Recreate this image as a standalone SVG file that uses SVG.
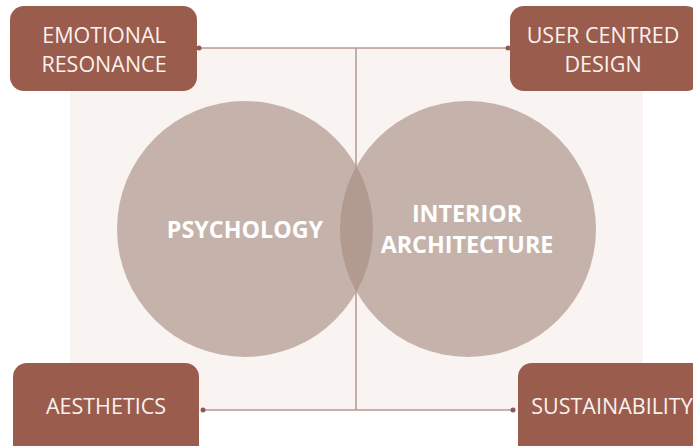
<svg xmlns="http://www.w3.org/2000/svg" width="693" height="446" viewBox="0 0 693 446">
<style>
.node rect{fill:#9a5c4c;}
.node text{fill:#fbf1ee;font-family:"Open Sans","Liberation Sans",sans-serif;font-size:21.5px;text-anchor:middle;}
.circ{fill:#a58a80;fill-opacity:0.62;}
.big{fill:#ffffff;font-family:"Open Sans","Liberation Sans",sans-serif;font-weight:bold;font-size:23.3px;text-anchor:middle;}
.conn line{stroke:#b49890;stroke-width:1.5;fill:none;}
.dot{fill:#8e5a4e;}
</style>
<rect x="0" y="0" width="693" height="446" fill="#ffffff"/>
<rect x="70" y="48" width="573" height="362" fill="#f9f3f1"/>
<g id="venn">
<circle class="circ" cx="245" cy="229" r="128"/>
<circle class="circ" cx="468" cy="229" r="128"/>
<text class="big" x="245" y="238">PSYCHOLOGY</text>
<text class="big" x="467" y="222">INTERIOR</text>
<text class="big" x="467" y="253">ARCHITECTURE</text>
</g>
<g id="connectors" class="conn">
<line x1="199" y1="48" x2="356" y2="48"/>
<line x1="356" y1="48" x2="508" y2="48"/>
<line x1="356" y1="48" x2="356" y2="410"/>
<line x1="203" y1="410" x2="356" y2="410"/>
<line x1="356" y1="410" x2="513" y2="410"/>
<line x1="353" y1="229" x2="359" y2="229"/>
<circle class="dot" cx="199" cy="48" r="2.5"/>
<circle class="dot" cx="508" cy="48" r="2.5"/>
<circle class="dot" cx="203" cy="410" r="2.5"/>
<circle class="dot" cx="513" cy="410" r="2.5"/>
</g>
<g id="emotional" class="node">
<rect x="10" y="6" width="187" height="85" rx="14"/>
<text x="104" y="43">EMOTIONAL</text>
<text x="104" y="72">RESONANCE</text>
</g>
<g id="user" class="node">
<rect x="510" y="6" width="190" height="85" rx="14"/>
<text x="603" y="43">USER CENTRED</text>
<text x="603" y="72">DESIGN</text>
</g>
<g id="aesthetics" class="node">
<rect x="13" y="363" width="186" height="100" rx="14"/>
<text x="106" y="414">AESTHETICS</text>
</g>
<g id="sustainability" class="node">
<rect x="518" y="363" width="190" height="100" rx="14"/>
<text x="612" y="414">SUSTAINABILITY</text>
</g>
</svg>
